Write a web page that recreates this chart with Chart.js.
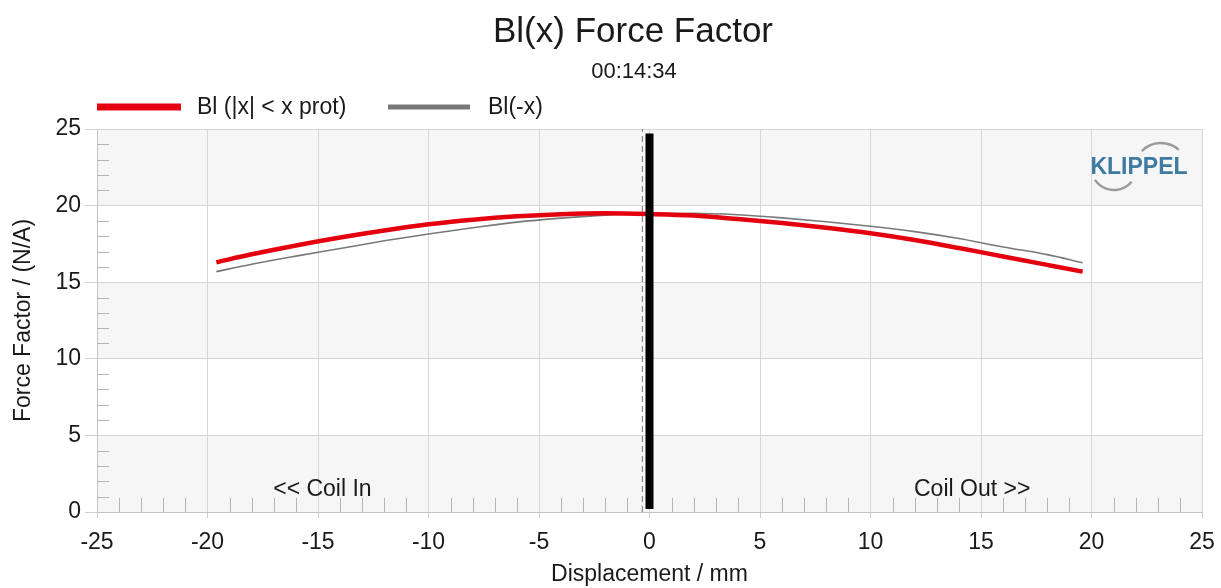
<!DOCTYPE html>
<html>
<head>
<meta charset="utf-8">
<script src="https://cdn.jsdelivr.net/npm/chart.js@4/dist/chart.umd.min.js"></script>
<style>
  html, body { margin: 0; padding: 0; background: #ffffff; }
  #wrap { width: 1221px; height: 588px; position: relative; }
</style>
</head>
<body>
<div id="wrap"><canvas id="c" width="1221" height="588"></canvas></div>
<script>
// ---- data ----
const xValues        = [-19.6, -18, -16, -14, -12, -10, -8, -6, -4, -2, 0, 2, 4, 6, 8, 10, 12, 14, 16, 18, 19.6];
const blValues       = [16.30, 16.82, 17.40, 17.92, 18.38, 18.78, 19.08, 19.30, 19.44, 19.50, 19.45, 19.35, 19.12, 18.86, 18.55, 18.19, 17.75, 17.23, 16.68, 16.13, 15.69];
const blMirrorValues = [15.69, 16.17, 16.70, 17.20, 17.70, 18.15, 18.55, 18.92, 19.18, 19.38, 19.48, 19.50, 19.40, 19.20, 18.95, 18.65, 18.30, 17.85, 17.30, 16.80, 16.27];
const markerX   = [0, 0];
const markerY   = [0.2, 24.7];
const xprotX    = [-0.32, -0.32];
const xprotY    = [0, 25];
const xTickLabels = [-25, -20, -15, -10, -5, 0, 5, 10, 15, 20, 25];
const yTickLabels = [0, 5, 10, 15, 20, 25];
const seriesNames = ['Bl (|x| < x prot)', 'Bl(-x)'];
const chartTitle = 'Bl(x) Force Factor';
const chartSubtitle = '00:14:34';
const xAxisTitle = 'Displacement / mm';
const yAxisTitle = 'Force Factor / (N/A)';
const annotations = [
  { text: '<< Coil In', x: -14.8, y: 1.45 },
  { text: 'Coil Out >>', x: 14.6, y: 1.45 }
];

const FONT = "'Liberation Sans', Arial, sans-serif";
const RED = '#e5000f';
const GRAY = '#787878';
const TXT = '#1a1a1a';

const pts = (xs, ys) => xs.map((x, i) => ({ x: x, y: ys[i] }));

const decorPlugin = {
  id: 'decor',
  beforeDraw(chart) {
    const { ctx, chartArea: a, scales: { y } } = chart;
    ctx.save();
    ctx.fillStyle = '#ffffff';
    ctx.fillRect(0, 0, chart.width, chart.height);
    ctx.fillStyle = '#f6f6f6';
    for (let k = 0; k < yTickLabels.length - 1; k++) {
      if ((yTickLabels.length - 2 - k) % 2 === 0) {
        const y0 = y.getPixelForValue(yTickLabels[k]);
        const y1 = y.getPixelForValue(yTickLabels[k + 1]);
        ctx.fillRect(a.left, y1, a.right - a.left, y0 - y1);
      }
    }
    ctx.restore();
  },
  beforeDatasetsDraw(chart) {
    const { ctx, chartArea: a, scales: { x, y } } = chart;
    ctx.save();
    ctx.strokeStyle = '#b4b4b4';
    ctx.lineWidth = 1;
    ctx.beginPath();
    for (let v = 1; v < 25; v++) {
      if (v % 5 === 0) continue;
      const py = Math.round(y.getPixelForValue(v)) + 0.5;
      ctx.moveTo(a.left, py); ctx.lineTo(a.left + 12, py);
    }
    for (let v = -24; v < 25; v++) {
      if (v % 5 === 0) continue;
      const px = Math.round(x.getPixelForValue(v)) + 0.5;
      ctx.moveTo(px, a.bottom); ctx.lineTo(px, a.bottom - 14);
    }
    ctx.stroke();

    // KLIPPEL logo (behind curves)
    ctx.strokeStyle = '#9a9a9a';
    ctx.lineWidth = 2.5;
    ctx.beginPath();
    ctx.arc(1161, 169.6, 26.6, 224 * Math.PI / 180, 312 * Math.PI / 180);
    ctx.stroke();
    ctx.beginPath();
    ctx.arc(1114, 167, 23, 40 * Math.PI / 180, 146 * Math.PI / 180);
    ctx.stroke();
    ctx.font = 'bold 23px ' + FONT;
    ctx.fillStyle = '#3f7aa3';
    ctx.textAlign = 'center';
    ctx.textBaseline = 'middle';
    ctx.fillText('KLIPPEL', 1139, 168);
    ctx.restore();
  },
  afterDraw(chart) {
    const { ctx, scales: { x, y } } = chart;
    ctx.save();
    ctx.fillStyle = TXT;
    ctx.textAlign = 'center';
    ctx.textBaseline = 'alphabetic';
    ctx.font = '35px ' + FONT;
    ctx.fillText(chartTitle, 633, 42);
    ctx.font = '22px ' + FONT;
    ctx.fillText(chartSubtitle, 634, 78);

    // legend
    ctx.lineCap = 'butt';
    ctx.strokeStyle = RED; ctx.lineWidth = 7;
    ctx.beginPath(); ctx.moveTo(97, 107); ctx.lineTo(181, 107); ctx.stroke();
    ctx.strokeStyle = GRAY; ctx.lineWidth = 5;
    ctx.beginPath(); ctx.moveTo(388, 107); ctx.lineTo(470, 107); ctx.stroke();
    ctx.textAlign = 'left';
    ctx.textBaseline = 'middle';
    ctx.font = '23px ' + FONT;
    ctx.fillStyle = TXT;
    ctx.fillText(seriesNames[0], 197, 108);
    ctx.fillText(seriesNames[1], 488, 108);

    // annotations
    ctx.textAlign = 'center';
    for (const an of annotations) {
      ctx.fillText(an.text, x.getPixelForValue(an.x), y.getPixelForValue(an.y));
    }
    ctx.restore();
  }
};

const chart = new Chart(document.getElementById('c'), {
  type: 'line',
  data: {
    datasets: [
      { label: 'marker', data: pts(markerX, markerY), borderColor: '#000000', borderWidth: 8,
        borderCapStyle: 'butt', pointRadius: 0, order: 0 },
      { label: seriesNames[0], data: pts(xValues, blValues), borderColor: RED, borderWidth: 4.5,
        pointRadius: 0, cubicInterpolationMode: 'monotone', order: 1 },
      { label: seriesNames[1], data: pts(xValues, blMirrorValues), borderColor: GRAY, borderWidth: 1.6,
        pointRadius: 0, cubicInterpolationMode: 'monotone', order: 2 },
      { label: 'xprot', data: pts(xprotX, xprotY), borderColor: '#888888', borderWidth: 1.2,
        borderDash: [6, 4], pointRadius: 0, order: 3 }
    ]
  },
  options: {
    responsive: false,
    animation: false,
    events: [],
    layout: { padding: { top: 129, right: 19, bottom: 0, left: 0 } },
    plugins: { legend: { display: false }, tooltip: { enabled: false }, title: { display: false } },
    scales: {
      x: {
        type: 'linear', min: -25, max: 25,
        afterFit(s) { s.height = 76; s.paddingRight = 0; s.paddingLeft = 0; },
        afterBuildTicks(s) { s.ticks = xTickLabels.map(v => ({ value: v })); },
        ticks: { color: TXT, font: { family: FONT, size: 23 }, padding: 11, maxRotation: 0,
                 callback: v => String(v) },
        grid: { color: '#d6d6d6', lineWidth: 1, tickLength: 6, tickColor: '#cfcfcf' },
        border: { color: '#c4c4c4' },
        title: { display: true, text: xAxisTitle, color: TXT, font: { family: FONT, size: 23 },
                 padding: { top: 0, bottom: 0 } }
      },
      y: {
        type: 'linear', min: 0, max: 25,
        afterFit(s) { s.width = 97; s.paddingTop = 0; s.paddingBottom = 0; },
        afterBuildTicks(s) { s.ticks = yTickLabels.map(v => ({ value: v })); },
        ticks: { color: TXT, font: { family: FONT, size: 23 }, padding: 4,
                 callback: v => String(v) },
        grid: { color: '#d6d6d6', lineWidth: 1, tickLength: 12, tickColor: '#cfcfcf' },
        border: { color: '#c4c4c4' },
        title: { display: true, text: yAxisTitle, color: TXT, font: { family: FONT, size: 23 },
                 padding: { top: 10, bottom: 0 } }
      }
    }
  },
  plugins: [decorPlugin]
});
</script>
</body>
</html>
